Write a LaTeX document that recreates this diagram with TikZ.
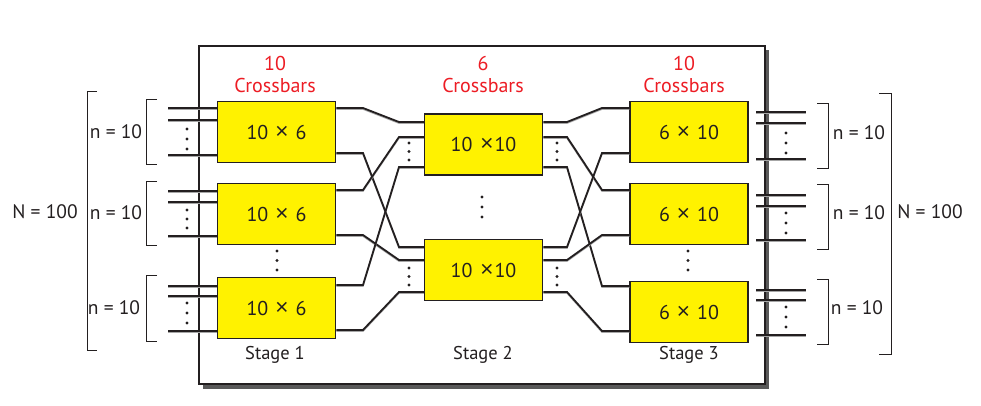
\documentclass[tikz,border=0pt]{standalone}
\usepackage{fontspec}
\setmainfont{PT Sans}
\newfontfamily\xfont{Open Sans}
\definecolor{ylw}{RGB}{255,242,0}
\definecolor{rd}{RGB}{237,28,36}
\definecolor{ink}{RGB}{35,31,32}
\newcommand\tms{{\xfont\fontsize{23}{23}\selectfont ×}}
\begin{document}
\begin{tikzpicture}[x=1pt,y=-1pt,
  box/.style={draw=ink, line width=1.5pt, fill=ylw, minimum width=118pt, minimum height=61pt, inner sep=0pt, font=\fontsize{20}{22}\selectfont, text=ink},
  wire/.style={line width=1.8pt, draw=ink, preaction={draw=black!35, line width=1.3pt, transform canvas={yshift=-1.2pt}}},
  brk/.style={line width=0.9pt, draw=ink},
  lbl/.style={font=\fontsize{19.5}{21}\selectfont, text=ink, inner sep=0pt},
  captxt/.style={font=\fontsize{20}{22}\selectfont, text=rd, align=center, inner sep=0pt},
  stg/.style={font=\fontsize{18.5}{20}\selectfont, text=ink, inner sep=0pt}]
\useasboundingbox (0,0) rectangle (981,405);
\newcommand\tridots[4]{\foreach \yy in {#2,#3,#4}{\fill[ink] (#1,\yy) circle (1.6pt);}}
% frame with shadow
\fill[black!65] (203,50) rectangle (769,389);
\draw[line width=1.2pt, draw=ink, fill=white] (199,46) rectangle (765,384);
% boxes
\node[box] (s1a) at (276.5,132) {10\hspace{7pt}\tms\hspace{7pt}6};
\node[box] (s1b) at (276.5,214) {10\hspace{7pt}\tms\hspace{7pt}6};
\node[box] (s1c) at (276.5,308) {10\hspace{7pt}\tms\hspace{7pt}6};
\node[box] (s2a) at (483.5,144.5) {10\hspace{8pt}\tms\hspace{1pt}10};
\node[box] (s2b) at (483.5,270) {10\hspace{8pt}\tms\hspace{1pt}10};
\node[box] (s3a) at (689,132) {6\hspace{7pt}\tms\hspace{7pt}10};
\node[box] (s3b) at (689,214) {6\hspace{7pt}\tms\hspace{7pt}10};
\node[box] (s3c) at (689,312) {6\hspace{7pt}\tms\hspace{7pt}10};
% captions
\node[captxt] (c1) at (275,74) {10\\Crossbars};
\node[captxt] (c2) at (483,74) {6\\Crossbars};
\node[captxt] (c3) at (684,74) {10\\Crossbars};
\node[stg] (t1) at (275,355) {Stage 1};
\node[stg] (t2) at (483,355) {Stage 2};
\node[stg] (t3) at (689,355) {Stage 3};
% stage 1 inputs
\foreach \yy in {108,120,155} {\draw[wire] (168,\yy) -- (s1a.west |- 0,\yy);}
\foreach \yy in {191,202,236} {\draw[wire] (168,\yy) -- (s1b.west |- 0,\yy);}
\foreach \yy in {286,296,331} {\draw[wire] (168,\yy) -- (s1c.west |- 0,\yy);}
\tridots{187}{129}{139}{149}
\tridots{187}{210}{219}{228}
\tridots{187}{303}{313}{323}
% stage 1 -> stage 2
\draw[wire] (s1a.east |- 0,108) -- (363,108) -- (399,122) -- (s2a.west |- 0,122);
\draw[wire] (s1a.east |- 0,153) -- (363,153) -- (399,247) -- (s2b.west |- 0,247);
\draw[wire] (s1b.east |- 0,190) -- (363,190) -- (399,137) -- (s2a.west |- 0,137);
\draw[wire] (s1b.east |- 0,235) -- (363,235) -- (399,260) -- (s2b.west |- 0,260);
\draw[wire] (s1c.east |- 0,285) -- (363,285) -- (399,167) -- (s2a.west |- 0,167);
\draw[wire] (s1c.east |- 0,330) -- (363,330) -- (399,292) -- (s2b.west |- 0,292);
% stage 2 -> stage 3
\draw[wire] (s2a.east |- 0,122) -- (567,122) -- (602,108) -- (s3a.west |- 0,108);
\draw[wire] (s2a.east |- 0,137) -- (567,137) -- (602,190) -- (s3b.west |- 0,190);
\draw[wire] (s2a.east |- 0,167) -- (567,167) -- (602,286) -- (s3c.west |- 0,286);
\draw[wire] (s2b.east |- 0,247) -- (567,247) -- (602,153) -- (s3a.west |- 0,153);
\draw[wire] (s2b.east |- 0,260) -- (567,260) -- (602,235) -- (s3b.west |- 0,235);
\draw[wire] (s2b.east |- 0,292) -- (567,292) -- (602,331) -- (s3c.west |- 0,331);
\tridots{409}{143}{151.5}{160}
\tridots{409}{268}{276.5}{285}
\tridots{557}{143}{151.5}{160}
\tridots{557}{268}{276.5}{285}
% between-box dots
\tridots{482}{197}{207}{217}
\tridots{277}{251}{260.5}{270}
\tridots{688}{251}{260.5}{270}
% stage 3 outputs
\foreach \yy in {112,123,159} {\draw[wire] (756,\yy) -- (806,\yy);}
\foreach \yy in {195,206,240} {\draw[wire] (756,\yy) -- (806,\yy);}
\foreach \yy in {290,300,335} {\draw[wire] (756,\yy) -- (806,\yy);}
\tridots{786}{133}{143}{153}
\tridots{786}{213}{223}{233}
\tridots{786}{307}{317}{327}
% left brackets
\draw[brk] (157,99) -- (146,99) -- (146,164) -- (157,164);
\draw[brk] (157,181) -- (146,181) -- (146,245) -- (157,245);
\draw[brk] (157,275) -- (146,275) -- (146,341) -- (157,341);
\draw[brk] (97,91) -- (87,91) -- (87,350) -- (97,350);
\node[lbl] (nl1) at (116,132) {n = 10};
\node[lbl] (nl2) at (116,213) {n = 10};
\node[lbl] (nl3) at (114,308) {n = 10};
\node[lbl] (Nl) at (45,212) {N = 100};
% right brackets
\draw[brk] (817,103) -- (828,103) -- (828,168) -- (817,168);
\draw[brk] (817,184) -- (828,184) -- (828,249) -- (817,249);
\draw[brk] (817,279) -- (828,279) -- (828,344) -- (817,344);
\draw[brk] (879,93) -- (891,93) -- (891,354) -- (879,354);
\node[lbl] (nr1) at (859,133) {n = 10};
\node[lbl] (nr2) at (859,213) {n = 10};
\node[lbl] (nr3) at (857,308) {n = 10};
\node[lbl] (Nr) at (930,212) {N = 100};
\end{tikzpicture}
\end{document}
